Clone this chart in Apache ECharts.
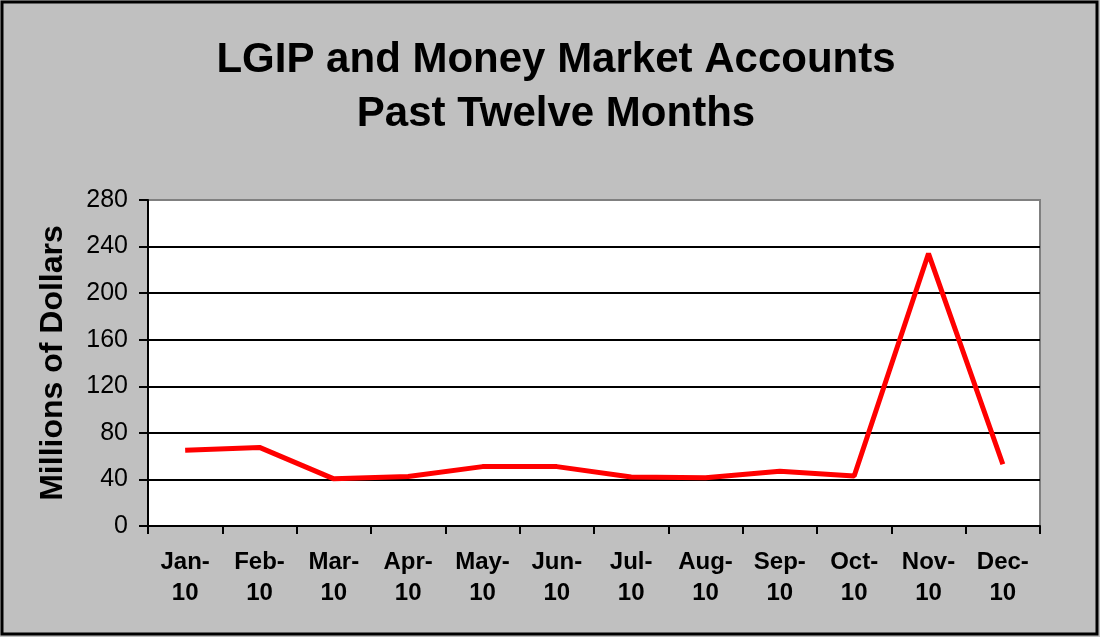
<!DOCTYPE html>
<html><head><meta charset="utf-8">
<script src="https://cdn.jsdelivr.net/npm/echarts@6/dist/echarts.min.js"></script>
<style>html,body{margin:0;padding:0;background:#c0c0c0}#c{width:1100px;height:637px}</style>
</head><body><div id="c"></div>
<script>
const categories = ['Jan-10','Feb-10','Mar-10','Apr-10','May-10','Jun-10','Jul-10','Aug-10','Sep-10','Oct-10','Nov-10','Dec-10'];
const values = [65, 67.5, 40.5, 42.5, 51, 51, 42, 41.5, 47, 43, 234, 53];
const titleLines = ['LGIP and Money Market Accounts', 'Past Twelve Months'];
const yName = 'Millions of Dollars';

const chart = echarts.init(document.getElementById('c'), null, {renderer:'canvas'});
chart.setOption({
  backgroundColor: '#c0c0c0',
  animation: false,
  title: {
    text: titleLines.join('\n'),
    left: 551, top: 28, textAlign: 'center',
    textStyle: {fontFamily: 'Liberation Sans, Arial', fontWeight: 'bold', fontSize: 42, color: '#000', lineHeight: 54}
  },
  graphic: [{
    type: 'rect', shape: {x: 2, y: 2, width: 1095, height: 632},
    style: {fill: 'none', stroke: '#000', lineWidth: 3}, z: 100
  }],
  grid: {left: 148, top: 200, right: 60, bottom: 111, show: true, backgroundColor: '#fff', borderColor: '#808080', borderWidth: 2},
  xAxis: {
    type: 'category', data: categories, boundaryGap: true,
    axisLine: {lineStyle: {color: '#000', width: 2}},
    axisTick: {show: true, length: 8, lineStyle: {color: '#000', width: 2}},
    axisLabel: {
      formatter: v => v.replace('-', '-\n'), margin: 21,
      fontFamily: 'Liberation Sans, Arial', fontWeight: 'bold', fontSize: 24, color: '#000', lineHeight: 31
    }
  },
  yAxis: {
    type: 'value', min: 0, max: 280, interval: 40,
    name: yName, nameLocation: 'middle', nameGap: 79, nameRotate: 90,
    nameTextStyle: {fontFamily: 'Liberation Sans, Arial', fontWeight: 'bold', fontSize: 32, color: '#000'},
    axisLine: {show: true, lineStyle: {color: '#000', width: 2}},
    axisTick: {show: true, length: 9, lineStyle: {color: '#000', width: 2}},
    axisLabel: {fontFamily: 'Liberation Sans, Arial', fontSize: 25, color: '#000', margin: 20},
    splitLine: {show: true, lineStyle: {color: ['#000','#000','#000','#000','#000','#000','#000','#808080'], width: 2}}
  },
  series: [{
    type: 'line', data: values, symbol: 'none',
    lineStyle: {color: '#ff0000', width: 5}
  }]
});
</script></body></html>
